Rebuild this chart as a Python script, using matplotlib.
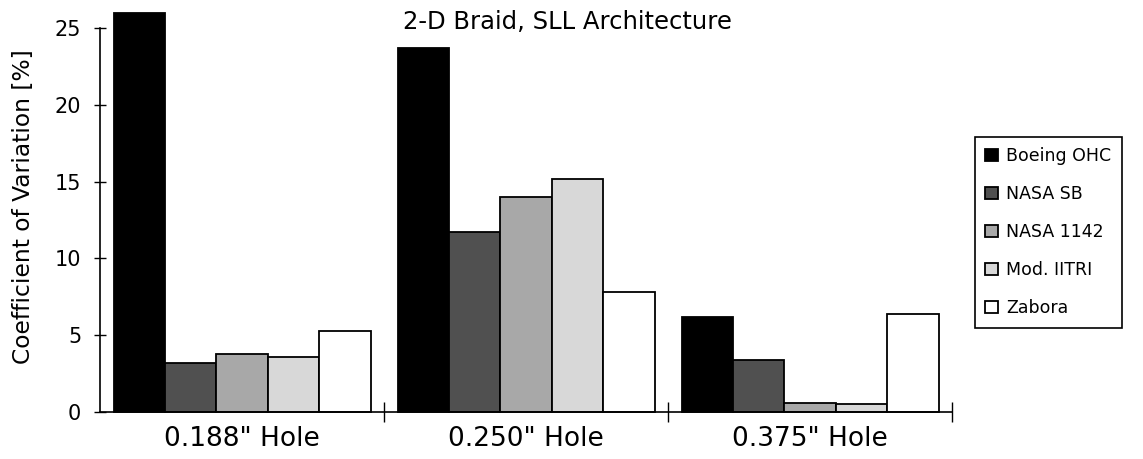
import matplotlib.pyplot as plt
import numpy as np

plt.rcParams['font.family'] = ['DejaVu Sans']

holes = ['0.188" Hole', '0.250" Hole', '0.375" Hole']
series = ['Boeing OHC', 'NASA SB', 'NASA 1142', 'Mod. IITRI', 'Zabora']
boeing = [26.0, 23.7, 6.2]
nasa_sb = [3.2, 11.7, 3.4]
nasa_1142 = [3.8, 14.0, 0.6]
mod_iitri = [3.6, 15.2, 0.55]
zabora = [5.3, 7.8, 6.4]

values = [boeing, nasa_sb, nasa_1142, mod_iitri, zabora]
colors = ['#000000', '#505050', '#a8a8a8', '#d8d8d8', '#ffffff']

fig = plt.figure(figsize=(11.43, 4.59), dpi=100)
ax = fig.add_axes([0.0875, 0.1024, 0.7455, 0.8366])

x = np.arange(len(holes))
width = 0.181
for i, (name, vals) in enumerate(zip(series, values)):
    ax.bar(x + (i - 2) * width, vals, width, color=colors[i], edgecolor='black',
           linewidth=1.3, label=name, clip_on=False)

ax.set_xlim(-0.5, 2.5)
ax.set_ylim(0, 25)
ax.set_yticks(range(0, 30, 5))
ax.tick_params(axis='y', direction='inout', length=9, width=1, labelsize=15, pad=9)
ax.set_xticks(x, holes)
ax.tick_params(axis='x', length=0, labelsize=19, pad=10)
ax.set_xticks([0.5, 1.5, 2.5], minor=True)
ax.tick_params(axis='x', which='minor', direction='inout', length=14, width=1)
ax.spines['top'].set_visible(False)
ax.spines['right'].set_visible(False)
ax.spines['left'].set_linewidth(1.2)
ax.spines['bottom'].set_linewidth(1.2)
ax.set_ylabel('Coefficient of Variation [%]', fontsize=16.8)
ax.yaxis.set_label_coords(-0.076, 0.534)

fig.text(0.4965, 0.952, '2-D Braid, SLL Architecture', ha='center', va='center', fontsize=17.5)

leg = fig.legend(loc='upper left', bbox_to_anchor=(0.853, 0.7015), fontsize=12.5,
                 handlelength=0.7, handleheight=0.7, handletextpad=0.5,
                 labelspacing=1.15, borderpad=0.6, borderaxespad=0, fancybox=False,
                 framealpha=1, edgecolor='black')
leg.get_frame().set_linewidth(1.2)

fig.savefig('out.png', dpi=100)
